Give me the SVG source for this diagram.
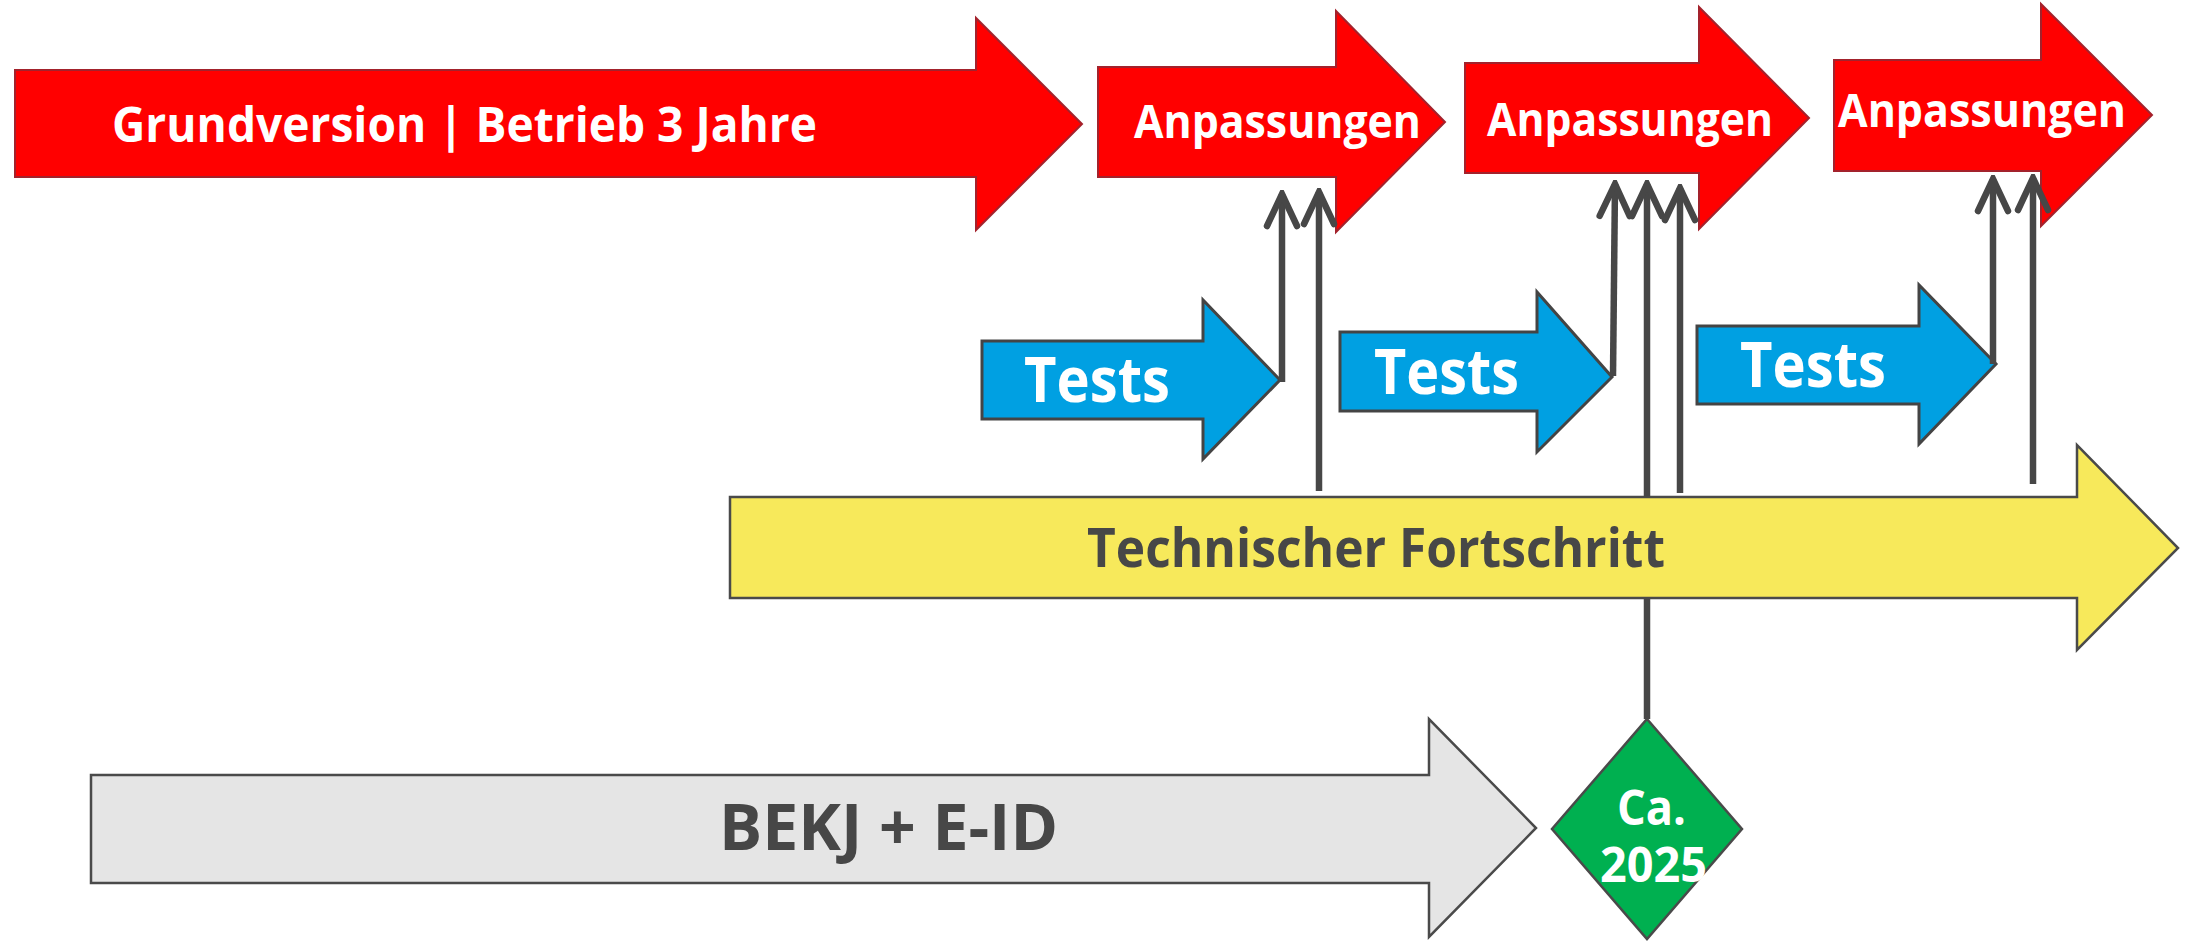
<svg xmlns="http://www.w3.org/2000/svg" width="2186" height="941" viewBox="0 0 2186 941">
<style>
.red{fill:#ff0000;stroke:#a3222c;stroke-width:2}
.blue{fill:#00a0e2;stroke:#444;stroke-width:3}
.yel{fill:#f7e95b;stroke:#4a4a4a;stroke-width:2.5}
.gry{fill:#e5e5e5;stroke:#4a4a4a;stroke-width:2.5}
.grn{fill:#00b050;stroke:#4a4a4a;stroke-width:2.5}
text{font-family:"Open Sans","DejaVu Sans",sans-serif;font-weight:bold}
.w{fill:#ffffff}
.d{fill:#474747}
.con{stroke:#474747;stroke-width:6.5;fill:none}
</style>
<defs>
<marker id="ah" markerUnits="userSpaceOnUse" viewBox="-40 -20 44 40" markerWidth="44" markerHeight="40" refX="0" refY="0" orient="auto">
<path d="M -32 -15 L 0 0 L -32 15" fill="none" stroke="#474747" stroke-width="6.5" stroke-linecap="round" stroke-linejoin="miter"/>
</marker>
</defs>
<rect width="2186" height="941" fill="#ffffff"/>
<g id="grundversion">
<path class="red" d="M15,70 H976 V18 L1082,124 L976,230 V177 H15 Z"/>
<text class="w" x="112" y="142" font-size="49" textLength="705" lengthAdjust="spacingAndGlyphs">Grundversion | Betrieb 3 Jahre</text>
</g>
<g id="anpassungen1">
<path class="red" d="M1098,67 H1336 V11 L1445,122 L1336,232 V177 H1098 Z"/>
<text class="w" x="1134" y="138" font-size="46" textLength="287" lengthAdjust="spacingAndGlyphs">Anpassungen</text>
</g>
<g id="anpassungen2">
<path class="red" d="M1465,63 H1699 V7 L1809,118 L1699,229 V173 H1465 Z"/>
<text class="w" x="1487" y="136" font-size="46" textLength="286" lengthAdjust="spacingAndGlyphs">Anpassungen</text>
</g>
<g id="anpassungen3">
<path class="red" d="M1834,60 H2041 V4 L2152,115 L2041,226 V171 H1834 Z"/>
<text class="w" x="1838" y="127" font-size="46" textLength="288" lengthAdjust="spacingAndGlyphs">Anpassungen</text>
</g>
<g id="tests1">
<path class="blue" d="M982,341 H1203 V300 L1280,380 L1203,459 V419 H982 Z"/>
<text class="w" x="1024" y="402" font-size="63" textLength="146" lengthAdjust="spacingAndGlyphs">Tests</text>
</g>
<g id="tests2">
<path class="blue" d="M1340,332 H1537 V292 L1612,377 L1537,452 V411 H1340 Z"/>
<text class="w" x="1374" y="394" font-size="63" textLength="145" lengthAdjust="spacingAndGlyphs">Tests</text>
</g>
<g id="tests3">
<path class="blue" d="M1697,326 H1919 V285 L1996,364 L1919,444 V404 H1697 Z"/>
<text class="w" x="1740" y="387" font-size="63" textLength="146" lengthAdjust="spacingAndGlyphs">Tests</text>
</g>
<g id="fortschritt">
<path class="yel" d="M730,497 H2077 V445 L2178,548 L2077,650 V598 H730 Z"/>
<text class="d" x="1087" y="567" font-size="53" textLength="578" lengthAdjust="spacingAndGlyphs">Technischer Fortschritt</text>
</g>
<g id="bekj">
<path class="gry" d="M91,775 H1429 V719 L1536,828 L1429,937 V883 H91 Z"/>
<text class="d" x="719" y="850" font-size="64" textLength="339" lengthAdjust="spacingAndGlyphs">BEKJ + E-ID</text>
</g>
<g id="meilenstein">
<path class="grn" d="M1647,719 L1742,829 L1647,939 L1552,829 Z"/>
<text class="w" font-size="49"><tspan x="1617" y="825" textLength="69" lengthAdjust="spacingAndGlyphs">Ca.</tspan><tspan x="1600" y="882" textLength="107" lengthAdjust="spacingAndGlyphs">2025</tspan></text>
</g>
<g id="connectors" class="con">
<path d="M1282,382 V194" marker-end="url(#ah)"/>
<path d="M1319,491 V192" marker-end="url(#ah)"/>
<path d="M1613,376 L1615,184" marker-end="url(#ah)"/>
<path d="M1647,497 V184" marker-end="url(#ah)"/>
<path d="M1680,493 V188" marker-end="url(#ah)"/>
<path d="M1993,364 V179" marker-end="url(#ah)"/>
<path d="M2033,484 V178" marker-end="url(#ah)"/>
<path d="M1647,599 V719"/>
</g>
</svg>
